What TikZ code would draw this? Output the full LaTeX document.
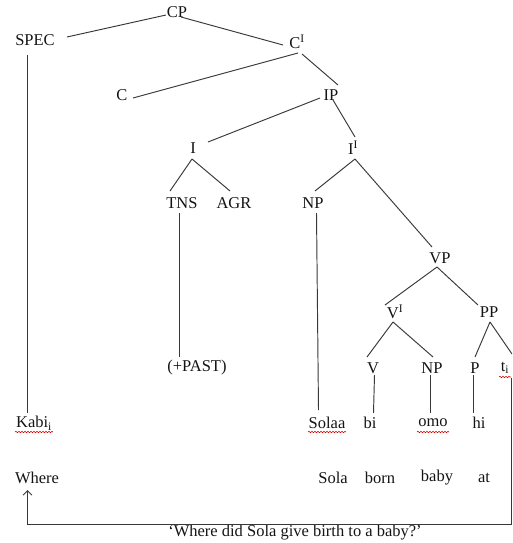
\documentclass[tikz,border=0pt]{standalone}
\usepackage{fontspec}
\setmainfont{Liberation Serif}
\usetikzlibrary{arrows.meta,decorations.pathmorphing}
\begin{document}
\begin{tikzpicture}[x=1pt,y=-1pt,
  lbl/.style={inner sep=0pt,text=black!92,font=\fontsize{16.5}{19}\selectfont},
  branch/.style={draw=black!78,line width=0.95pt},
  squiggle/.style={draw=red!85!black,line width=0.6pt,decorate,
    decoration={snake,amplitude=0.7pt,segment length=3pt}}]
\useasboundingbox (0,0) rectangle (512,543);
\clip (0,0) rectangle (512,543);

% category labels
\node[lbl] (CP)   at (177,12)  {CP};
\node[lbl] (SPEC) at (35,40)   {SPEC};
\node[lbl] (CI)   at (297,42)  {C\textsuperscript{I}};
\node[lbl] (C)    at (122,95)  {C};
\node[lbl] (IP)   at (331,95)  {IP};
\node[lbl] (I)    at (193,148) {I};
\node[lbl] (II)   at (353,148) {I\textsuperscript{I}};
\node[lbl] (TNS)  at (182,203) {TNS};
\node[lbl] (AGR)  at (234,203) {AGR};
\node[lbl] (NP)   at (313,203) {NP};
\node[lbl] (VP)   at (440,258) {VP};
\node[lbl] (VI)   at (395,312) {V\textsuperscript{I}};
\node[lbl] (PP)   at (489,312) {PP};
\node[lbl] (V)    at (373,368) {V};
\node[lbl] (NPb)  at (432,368) {NP};
\node[lbl] (P)    at (475,368) {P};
\node[lbl] (T)    at (505,368) {t\textsubscript{i}};
\node[lbl] (PAST) at (197,368) {(+PAST)};

% Yoruba words
\node[lbl] (Kabi)  at (34,423)  {Kabi\textsubscript{i}};
\node[lbl] (Solaa) at (327,423) {Solaa};
\node[lbl] (bi)    at (370,423) {bi};
\node[lbl] (omo)   at (433,423) {omo};
\node[lbl] (hi)    at (479,423) {hi};

% English glosses
\node[lbl] (Where) at (37,478)  {Where};
\node[lbl] (Sola)  at (333,478) {Sola};
\node[lbl] (born)  at (380,478) {born};
\node[lbl] (baby)  at (437,478) {baby};
\node[lbl] (at)    at (484,478) {at};

% translation
\node[lbl] (trans) at (295,533) {‘Where did Sola give birth to a baby?’};

% tree branches
\draw[branch] ([shift={(-11,3)}]CP.center)  -- ([shift={(32,-3)}]SPEC.center);
\draw[branch] ([shift={(4,5)}]CP.center)    -- ([shift={(-14,3)}]CI.center);
\draw[branch] ([shift={(1,11)}]CI.center)   -- ([shift={(11,3)}]C.center);
\draw[branch] ([shift={(5,12)}]CI.center)   -- ([shift={(7,-10)}]IP.center);
\draw[branch] ([shift={(-11,3)}]IP.center)  -- ([shift={(15,-6)}]I.center);
\draw[branch] ([shift={(2,5)}]IP.center)    -- ([shift={(2,-11)}]II.center);
\draw[branch] ([shift={(-1,11)}]I.center)   -- ([shift={(-12,-12)}]TNS.center);
\draw[branch] ([shift={(-1,11)}]I.center)   -- ([shift={(-4,-12)}]AGR.center);
\draw[branch] ([shift={(2,11)}]II.center)   -- ([shift={(2,-12)}]NP.center);
\draw[branch] ([shift={(2,11)}]II.center)   -- ([shift={(-8,-11)}]VP.center);
\draw[branch] ([shift={(-3,9)}]VP.center)   -- ([shift={(-10,-7)}]VI.center);
\draw[branch] ([shift={(-3,9)}]VP.center)   -- ([shift={(-11,-7)}]PP.center);
\draw[branch] ([shift={(-2,10)}]VI.center)  -- ([shift={(-6,-11)}]V.center);
\draw[branch] ([shift={(-2,10)}]VI.center)  -- ([shift={(1,-11)}]NPb.center);
\draw[branch] ([shift={(1,10)}]PP.center)   -- ([shift={(0,-11)}]P.center);
\draw[branch] ([shift={(1,10)}]PP.center)   -- ([shift={(7,-14)}]T.center);

% vertical lines down to the words
\draw[branch] ([shift={(-7.5,15)}]SPEC.center) -- ([shift={(-6.5,-10)}]Kabi.center);
\draw[branch] ([shift={(-2.5,10)}]TNS.center)  -- ([shift={(-17.5,-11)}]PAST.center);
\draw[branch] ([shift={(3.5,10)}]NP.center)    -- ([shift={(-8.5,-13)}]Solaa.center);
\draw[branch] ([shift={(1.5,7)}]V.center)      -- ([shift={(3.5,-10)}]bi.center);
\draw[branch] ([shift={(-1.5,7)}]NPb.center)   -- ([shift={(-2.5,-10)}]omo.center);
\draw[branch] ([shift={(-1.5,7)}]P.center)     -- ([shift={(-5.5,-10)}]hi.center);

% movement arrow from the trace to the fronted wh-word
\coordinate (br) at (511,524.5);
\coordinate (bl) at (27.5,524.5);
\draw[branch,line width=0.9pt,-{Straight Barb[length=4.5pt,width=9pt]}]
  ([shift={(6,10)}]T.center) -- (br) -- (bl) -- ([shift={(-9.5,12)}]Where.center);

% spell-check underlines
\draw[squiggle] ([shift={(-19,9)}]Kabi.center)  -- ([shift={(19,9)}]Kabi.center);
\draw[squiggle] ([shift={(-19,9)}]Solaa.center) -- ([shift={(19,9)}]Solaa.center);
\draw[squiggle] ([shift={(-16,9)}]omo.center)   -- ([shift={(16,9)}]omo.center);
\draw[squiggle] ([shift={(-6,9)}]T.center)      -- ([shift={(6,9)}]T.center);
\end{tikzpicture}
\end{document}
